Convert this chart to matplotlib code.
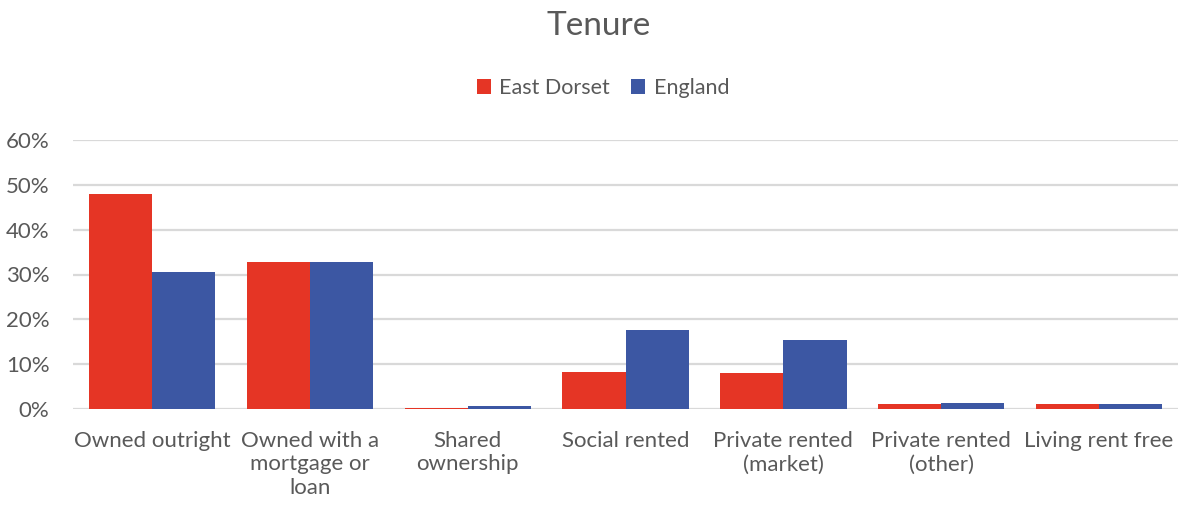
import matplotlib
matplotlib.use("Agg")
import matplotlib.pyplot as plt
import numpy as np

categories = ["Owned outright", "Owned with a\nmortgage or\nloan", "Shared\nownership",
              "Social rented", "Private rented\n(market)", "Private rented\n(other)",
              "Living rent free"]
east_dorset = [47.9, 32.8, 0.3, 8.3, 8.0, 1.1, 1.2]
england = [30.5, 32.7, 0.7, 17.6, 15.3, 1.3, 1.2]
yticks = [0, 10, 20, 30, 40, 50, 60]

plt.rcParams['font.family'] = ['Lato', 'DejaVu Sans']
TXT = '#595959'
RED = '#E53525'
BLUE = '#3C57A3'

fig = plt.figure(figsize=(11.78, 5.11), dpi=100)
ax = fig.add_axes([73/1178, 1 - 409/511, 1105/1178, (409-140)/511])

x = np.arange(len(categories))
w = 0.4
ax.bar(x - w/2, east_dorset, w, color=RED, label='East Dorset', zorder=3)
ax.bar(x + w/2, england, w, color=BLUE, label='England', zorder=3)

ax.set_xlim(-0.5, len(categories) - 0.5)
ax.set_ylim(0, 60)
ax.set_yticks(yticks)
ax.set_yticklabels([f"{v}%" for v in yticks])
ax.set_xticks(x)
ax.set_xticklabels(categories, linespacing=1.2)
ax.tick_params(axis='both', length=0, labelsize=16, colors=TXT)
ax.tick_params(axis='x', pad=16)
ax.tick_params(axis='y', pad=17)
ax.grid(axis='y', color='#D9D9D9', linewidth=1.6, zorder=0)
for s in ax.spines.values():
    s.set_visible(False)

fig.text(599/1178, 1 - 26/511, "Tenure", ha='center', va='center', fontsize=24, color=TXT)
leg = fig.legend(loc='center', bbox_to_anchor=(603/1178, 1 - 88/511), ncol=2, frameon=False,
                 fontsize=15.5, handlelength=0.65, handleheight=0.65, handletextpad=0.4,
                 columnspacing=1.0, labelcolor=TXT)

fig.savefig("out.png", dpi=100)
